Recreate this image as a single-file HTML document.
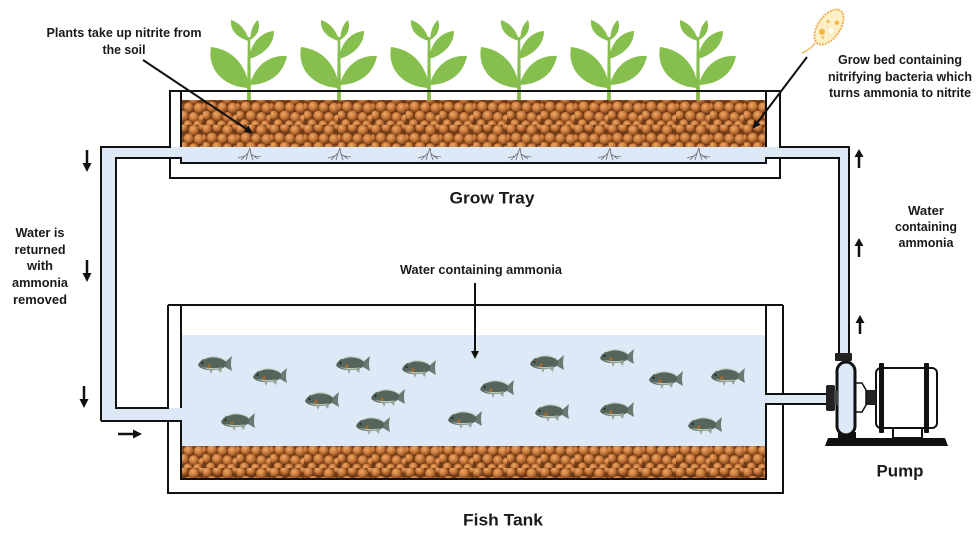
<!DOCTYPE html>
<html>
<head>
<meta charset="utf-8">
<style>
html,body{margin:0;padding:0;background:#fff;}
svg{display:block;}
text{font-family:"Liberation Sans",Arial,sans-serif;font-weight:bold;fill:#1a1a1a;}
</style>
</head>
<body>
<svg width="976" height="539" viewBox="0 0 976 539" xmlns="http://www.w3.org/2000/svg">
<defs>
  <radialGradient id="peb" cx="40%" cy="35%" r="65%">
    <stop offset="0" stop-color="#eeaa6a"/>
    <stop offset="0.55" stop-color="#c97a3c"/>
    <stop offset="1" stop-color="#8a4a1e"/>
  </radialGradient>
  <pattern id="soil" patternUnits="userSpaceOnUse" width="26" height="24" patternTransform="scale(1.3)">
    <rect width="26" height="24" fill="#6e3a16"/>
    <circle cx="3" cy="3" r="3.8" fill="url(#peb)"/>
    <circle cx="11" cy="2" r="3.6" fill="url(#peb)"/>
    <circle cx="19" cy="4" r="4" fill="url(#peb)"/>
    <circle cx="25.5" cy="1" r="3" fill="url(#peb)"/>
    <circle cx="0" cy="10" r="3" fill="url(#peb)"/>
    <circle cx="7" cy="10" r="4" fill="url(#peb)"/>
    <circle cx="15" cy="10.5" r="3.8" fill="url(#peb)"/>
    <circle cx="23" cy="11" r="4" fill="url(#peb)"/>
    <circle cx="2.5" cy="16.5" r="3.5" fill="url(#peb)"/>
    <circle cx="11" cy="17" r="4" fill="url(#peb)"/>
    <circle cx="19" cy="18" r="3.8" fill="url(#peb)"/>
    <circle cx="25.5" cy="19" r="3" fill="url(#peb)"/>
    <circle cx="6" cy="23" r="3.4" fill="url(#peb)"/>
    <circle cx="14.5" cy="24" r="3.5" fill="url(#peb)"/>
    <circle cx="22" cy="24" r="3.4" fill="url(#peb)"/>
  </pattern>

  <g id="plant" fill="#86bf4e">
    <path d="M-2,0 L-1.2,-64 L1.2,-64 L2,0 Z"/>
    <path d="M0,-15 C -4,-40 -20,-52 -38,-54 C -42,-32 -26,-14 0,-13 Z"/>
    <path d="M1,-18 C 8,-38 22,-46 38,-45 C 34,-26 20,-17 1,-16 Z"/>
    <path d="M0,-44 C 3,-60 13,-69 25,-70 C 25,-56 14,-46 0,-42 Z"/>
    <path d="M0,-61 C -3,-71 -9,-78 -18,-81 C -19,-70 -11,-63 0,-60 Z"/>
    <path d="M1,-62 C 2,-71 4,-77 9,-81 C 12,-72 8,-65 1,-61 Z"/>
  </g>

  <g id="roots" fill="none" stroke="#6a6a6a" stroke-width="0.8">
    <path d="M0,0 L-2,5 L-9,12 M-2,5 L-4,12 M0,0 L1,6 L3,12 M1,6 L8,11 M-5,8 L-12,10 M4,8 L11,9"/>
  </g>

  <g id="fish">
    <path d="M10,-2 L17,-8 Q15,0 17,7 L10,3 Z" fill="#6c7872"/>
    <path d="M-17,1 Q-14,-6 -4,-7.5 Q6,-8.5 11,-2 Q12,2 8,4 Q0,7 -10,5.5 Q-16,4 -17,1 Z" fill="#56655b"/>
    <path d="M-11,-5 Q-1,-10 10,-4" fill="none" stroke="#c9d1c9" stroke-width="1.2"/>
    <path d="M-14,3 Q-2,8 8,3 Q0,5 -14,3 Z" fill="#b9c3b6"/>
    <path d="M-6,5 L-4,10 L-2,5 Z" fill="#9aa59a"/>
    <path d="M2,5 L6,9 L7,4 Z" fill="#9aa59a"/>
    <circle cx="-6" cy="2" r="1.6" fill="#a8682c"/>
    <circle cx="-12.5" cy="-1" r="1" fill="#1d1d1d"/>
  </g>

  <marker id="ah" markerWidth="8" markerHeight="8" refX="6" refY="4" orient="auto" markerUnits="userSpaceOnUse">
    <path d="M0,0 L8,4 L0,8 Z" fill="#111"/>
  </marker>
</defs>

<!-- ===== plants ===== -->
<use href="#plant" x="249" y="101"/>
<use href="#plant" x="339" y="101"/>
<use href="#plant" x="429" y="101"/>
<use href="#plant" x="519" y="101"/>
<use href="#plant" x="609" y="101"/>
<use href="#plant" x="698" y="101"/>

<!-- ===== water fills ===== -->
<g fill="#dde9f6">
  <rect x="181" y="147" width="585" height="16"/>
  <rect x="101" y="147" width="80" height="11"/>
  <rect x="101" y="147" width="15" height="274"/>
  <rect x="101" y="408" width="80" height="13"/>
  <rect x="766" y="147" width="83" height="11"/>
  <rect x="839" y="147" width="10" height="207"/>
  <rect x="181" y="335" width="585" height="111"/>
  <rect x="766" y="394" width="62" height="10"/>
</g>

<!-- soil -->
<rect x="181" y="100" width="585" height="47" fill="url(#soil)"/>
<rect x="181" y="446" width="585" height="33" fill="url(#soil)"/>

<!-- roots -->
<use href="#roots" x="250" y="148"/>
<use href="#roots" x="340" y="148"/>
<use href="#roots" x="430" y="148"/>
<use href="#roots" x="520" y="148"/>
<use href="#roots" x="610" y="148"/>
<use href="#roots" x="699" y="148"/>

<!-- fish -->
<use href="#fish" x="215" y="364"/>
<use href="#fish" x="270" y="376"/>
<use href="#fish" x="353" y="364"/>
<use href="#fish" x="419" y="368"/>
<use href="#fish" x="322" y="400"/>
<use href="#fish" x="388" y="397"/>
<use href="#fish" x="238" y="421"/>
<use href="#fish" x="373" y="425"/>
<use href="#fish" x="465" y="419"/>
<use href="#fish" x="497" y="388"/>
<use href="#fish" x="547" y="363"/>
<use href="#fish" x="617" y="357"/>
<use href="#fish" x="666" y="379"/>
<use href="#fish" x="728" y="376"/>
<use href="#fish" x="552" y="412"/>
<use href="#fish" x="617" y="410"/>
<use href="#fish" x="705" y="425"/>

<!-- ===== structure lines ===== -->
<g fill="none" stroke="#111" stroke-width="2" stroke-linejoin="miter">
  <path d="M101,421 V147 H170 V91 H780 V147 H849 V354"/>
  <path d="M168,305 V408 H116 V158 H181 V163 H766 V158 H839 V354"/>
  <path d="M170,158 V178 H780 V158"/>
  <path d="M181,91 V147"/>
  <path d="M766,91 V147"/>
  <path d="M168,305 H783"/>
  <path d="M181,305 V408"/>
  <path d="M101,421 H181 V479 H766 V404 H828"/>
  <path d="M168,421 V493 H783 V404"/>
  <path d="M766,305 V394 H828"/>
  <path d="M783,305 V394"/>
</g>

<!-- ===== pump ===== -->
<g>
  <polygon points="828,438 945,438 948,446 825,446" fill="#111"/>
  <rect x="893" y="427" width="29" height="11" fill="#fff" stroke="#111" stroke-width="2"/>
  <rect x="876" y="368" width="61" height="60" rx="5" fill="#fff" stroke="#111" stroke-width="2"/>
  <rect x="879" y="363" width="5" height="70" rx="1" fill="#111"/>
  <rect x="924" y="363" width="5" height="70" rx="1" fill="#111"/>
  <rect x="866" y="390" width="10" height="15" fill="#222"/>
  <polygon points="855,383 862,383 866,390 866,405 862,412 855,412" fill="#fff" stroke="#111" stroke-width="1.5"/>
  <rect x="838" y="432" width="18" height="7" fill="#111"/>
  <rect x="837" y="362" width="18" height="73" rx="9" fill="#dde9f6" stroke="#111" stroke-width="3"/>
  <rect x="835" y="353" width="17" height="8" rx="1" fill="#222"/>
  <rect x="826" y="385" width="9" height="26" rx="2" fill="#222"/>
  <rect x="834" y="391" width="4" height="14" fill="#444"/>
</g>

<!-- ===== bacteria ===== -->
<g transform="translate(829,27) rotate(35)">
  <ellipse cx="0" cy="0" rx="11" ry="20" fill="#fdf0c6" stroke="#f0b25c" stroke-width="2" stroke-dasharray="2 1"/>
  <circle cx="-3" cy="8" r="3" fill="#f5b53e"/>
  <circle cx="4" cy="-8" r="2.2" fill="#f5b53e"/>
  <circle cx="-4" cy="-4" r="1.6" fill="#f5c060"/>
  <circle cx="4" cy="2" r="2.5" fill="#fff"/>
  <circle cx="1" cy="12" r="1.5" fill="#f5c060"/>
</g>
<path d="M815,43 Q810,50 802,53" fill="none" stroke="#f0b25c" stroke-width="1.3"/>

<!-- ===== pointer lines ===== -->
<g stroke="#111" stroke-width="2" fill="none">
  <line x1="143" y1="60" x2="251" y2="132" marker-end="url(#ah)"/>
  <line x1="807" y1="57" x2="754" y2="127" marker-end="url(#ah)"/>
  <line x1="475" y1="283" x2="475" y2="357" marker-end="url(#ah)"/>
</g>

<!-- ===== flow arrows ===== -->
<g fill="#111" stroke="#111">
  <line x1="87" y1="150" x2="87" y2="164" stroke-width="2.5"/>
  <polygon points="82.5,163 91.5,163 87,172" stroke="none"/>
  <line x1="87" y1="260" x2="87" y2="274" stroke-width="2.5"/>
  <polygon points="82.5,273 91.5,273 87,282" stroke="none"/>
  <line x1="84" y1="386" x2="84" y2="400" stroke-width="2.5"/>
  <polygon points="79.5,399 88.5,399 84,408" stroke="none"/>
  <line x1="118" y1="434" x2="134" y2="434" stroke-width="2.5"/>
  <polygon points="133,429.5 133,438.5 142,434" stroke="none"/>
  <line x1="859" y1="168" x2="859" y2="156" stroke-width="2.5"/>
  <polygon points="854.5,157 863.5,157 859,149" stroke="none"/>
  <line x1="859" y1="257" x2="859" y2="245" stroke-width="2.5"/>
  <polygon points="854.5,246 863.5,246 859,238" stroke="none"/>
  <line x1="860" y1="334" x2="860" y2="322" stroke-width="2.5"/>
  <polygon points="855.5,323 864.5,323 860,315" stroke="none"/>
</g>

<!-- ===== labels ===== -->
<g text-anchor="middle" dominant-baseline="central" font-size="12.5">
  <text x="124" y="33" textLength="155" lengthAdjust="spacingAndGlyphs">Plants take up nitrite from</text>
  <text x="124" y="50" textLength="43" lengthAdjust="spacingAndGlyphs">the soil</text>

  <text x="900" y="60" textLength="124" lengthAdjust="spacingAndGlyphs">Grow bed containing</text>
  <text x="900" y="77" textLength="144" lengthAdjust="spacingAndGlyphs">nitrifying bacteria which</text>
  <text x="900" y="93" textLength="142" lengthAdjust="spacingAndGlyphs">turns ammonia to nitrite</text>

  <text x="481" y="270" textLength="162" lengthAdjust="spacingAndGlyphs">Water containing ammonia</text>

  <text x="40" y="233" textLength="49" lengthAdjust="spacingAndGlyphs">Water is</text>
  <text x="40" y="250" textLength="51" lengthAdjust="spacingAndGlyphs">returned</text>
  <text x="40" y="266" textLength="26" lengthAdjust="spacingAndGlyphs">with</text>
  <text x="40" y="283" textLength="56" lengthAdjust="spacingAndGlyphs">ammonia</text>
  <text x="40" y="300" textLength="54" lengthAdjust="spacingAndGlyphs">removed</text>

  <text x="926" y="211" textLength="36" lengthAdjust="spacingAndGlyphs">Water</text>
  <text x="926" y="227" textLength="62" lengthAdjust="spacingAndGlyphs">containing</text>
  <text x="926" y="243" textLength="55" lengthAdjust="spacingAndGlyphs">ammonia</text>
</g>
<g text-anchor="middle" dominant-baseline="central" font-size="17">
  <text x="492" y="198" textLength="85" lengthAdjust="spacingAndGlyphs">Grow Tray</text>
  <text x="503" y="520" textLength="80" lengthAdjust="spacingAndGlyphs">Fish Tank</text>
  <text x="900" y="471" textLength="47" lengthAdjust="spacingAndGlyphs">Pump</text>
</g>
</svg>
</body>
</html>
